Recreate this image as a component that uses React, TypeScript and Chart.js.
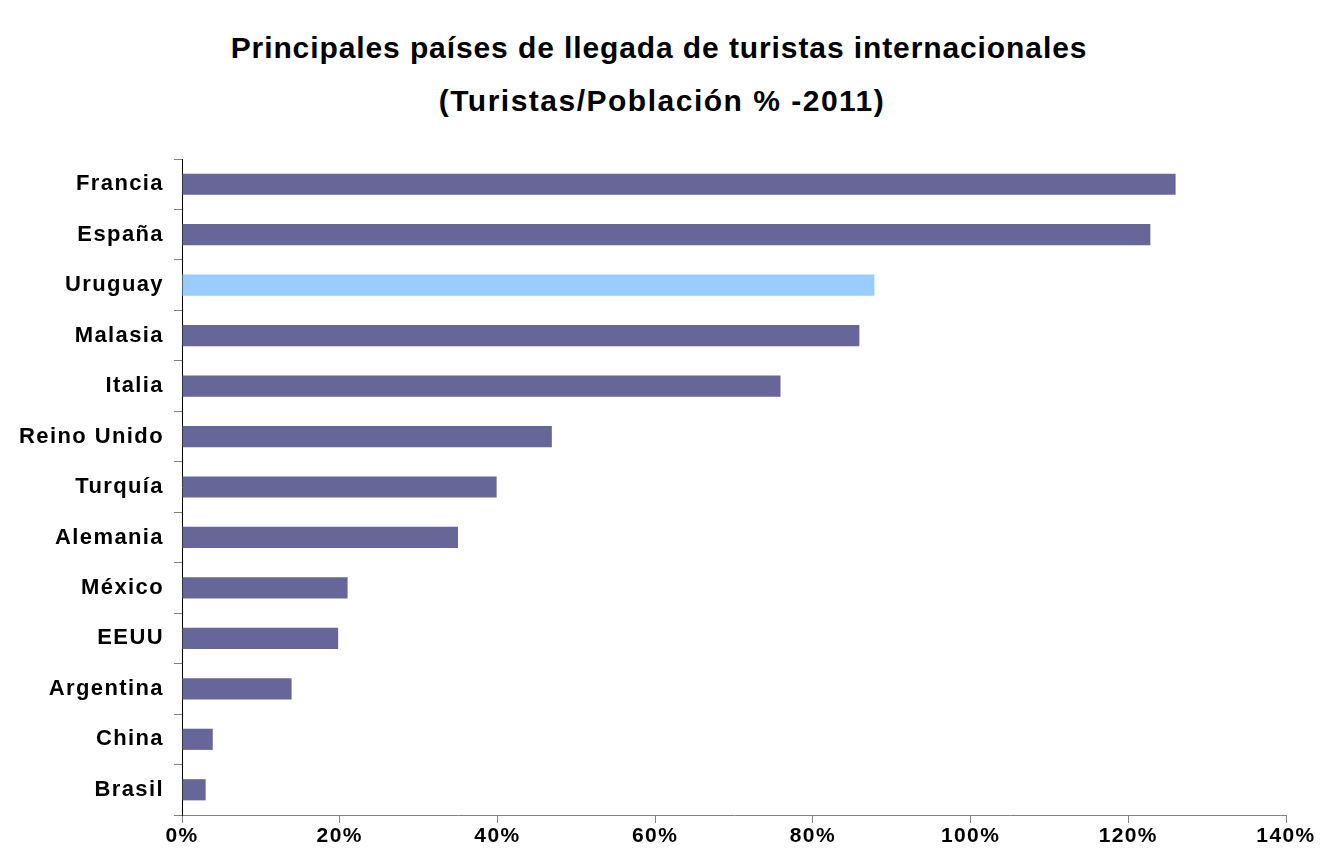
import React, { useEffect, useRef } from 'react';
import { Chart, registerables } from 'chart.js';

Chart.register(...registerables);

const categories = ['Francia', 'España', 'Uruguay', 'Malasia', 'Italia', 'Reino Unido', 'Turquía', 'Alemania', 'México', 'EEUU', 'Argentina', 'China', 'Brasil'];
const values = [126.0, 122.8, 87.8, 85.9, 75.9, 46.9, 39.9, 35.0, 21.0, 19.8, 13.9, 3.9, 3.0];
const highlighted = 'Uruguay';
const xMin = 0;
const xMax = 140;
const xStep = 20;
const titleLines = ['Principales países de llegada de turistas internacionales', '(Turistas/Población % -2011)'];

const BAR = '#666699';
const BAR_HI = '#99CCFF';
const FONT = '"Liberation Sans", Arial, sans-serif';

const spacingPlugin = {
  id: 'letterSpacingPlugin',
  beforeUpdate(chart: any) {
    chart.ctx.letterSpacing = '1.4px';
  },
  beforeDraw(chart: any) {
    chart.ctx.letterSpacing = '1.4px';
  },
};

export default function App() {
  const canvasRef = useRef<HTMLCanvasElement | null>(null);

  useEffect(() => {
    const canvas = canvasRef.current;
    if (!canvas) return;
    const chart = new Chart(canvas, {
      type: 'bar',
      data: {
        labels: categories,
        datasets: [
          {
            data: values,
            backgroundColor: categories.map((c) => (c === highlighted ? BAR_HI : BAR)),
            borderWidth: 0,
            barPercentage: 0.42,
            categoryPercentage: 1.0,
          },
        ],
      },
      plugins: [spacingPlugin],
      options: {
        indexAxis: 'y',
        responsive: false,
        animation: false,
        devicePixelRatio: 1,
        layout: { padding: { top: 159, right: 38, bottom: 0, left: 0 } },
        plugins: {
          legend: { display: false },
          title: { display: false },
          tooltip: { enabled: false },
        },
        scales: {
          x: {
            type: 'linear',
            min: xMin,
            max: xMax,
            ticks: {
              stepSize: xStep,
              callback: (v: any) => `${v}%`,
              color: '#000000',
              font: { family: FONT, size: 21, weight: 'bold' },
              padding: 1,
              maxRotation: 0,
            },
            grid: {
              drawOnChartArea: false,
              drawTicks: true,
              tickLength: 8,
              color: '#808080',
              lineWidth: 1,
            },
            border: { display: true, color: '#808080', width: 1 },
            afterFit: (scale: any) => {
              scale.height = 48;
            },
          },
          y: {
            type: 'category',
            offset: true,
            ticks: {
              color: '#000000',
              font: { family: FONT, size: 22, weight: 'bold' },
              padding: 10,
            },
            grid: {
              offset: true,
              drawOnChartArea: false,
              drawTicks: true,
              tickLength: 8,
              color: '#808080',
              lineWidth: 1,
            },
            border: { display: true, color: '#000000', width: 1 },
            afterFit: (scale: any) => {
              scale.width = 182;
            },
          },
        },
      },
    } as any);
    return () => chart.destroy();
  }, []);

  return (
    <div style={{ position: 'absolute', left: 0, top: 0, width: 1324, height: 863, background: '#ffffff' }}>
      <div
        style={{
          position: 'absolute',
          left: 0,
          top: 21,
          width: 1324,
          textAlign: 'center',
          fontFamily: FONT,
          fontWeight: 'bold',
          fontSize: 30,
          lineHeight: '53px',
          color: '#000000',
        }}
      >
        <div style={{ letterSpacing: '0.9px', marginRight: 6 }}>{titleLines[0]}</div>
        <div style={{ letterSpacing: '1.5px' }}>{titleLines[1]}</div>
      </div>
      <canvas ref={canvasRef} width={1324} height={863} style={{ position: 'absolute', left: 0, top: 0, display: 'block' }} />
    </div>
  );
}
